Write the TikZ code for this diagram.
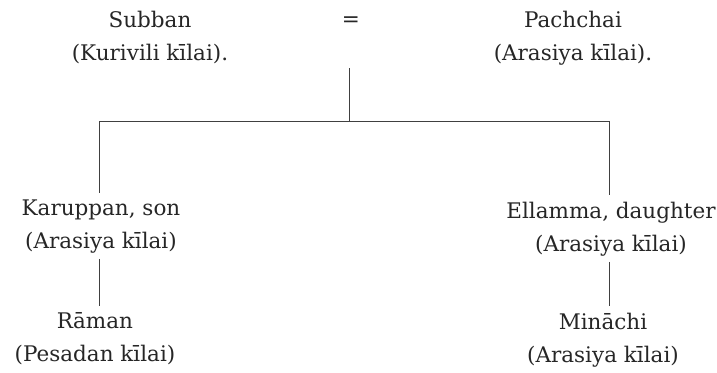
\documentclass[tikz,border=0pt]{standalone}
\usepackage{fontspec}
\setmainfont{DejaVu Serif}
\begin{document}
\begin{tikzpicture}[x=1pt,y=1pt,
  person/.style={align=center,font=\fontsize{21.5}{33}\selectfont,text=black!85,inner xsep=0pt,inner ysep=6pt,anchor=base},
  line/.style={draw=black!75,line width=0.8pt}]
\useasboundingbox (0,0) rectangle (717,-372);
\node[person] (sub) at (150,-60) {Subban\\(Kurivili kīlai).};
\node[person] (pac) at (573,-60) {Pachchai\\(Arasiya kīlai).};
\node[font=\fontsize{21.5}{22}\selectfont,text=black!85] (eq) at (351,-22) {=};
\node[person] (kar) at (101,-248) {Karuppan, son\\(Arasiya kīlai)};
\node[person] (ell) at (611,-251) {Ellamma, daughter\\(Arasiya kīlai)};
\node[person] (ram) at (95,-361) {Rāman\\(Pesadan kīlai)};
\node[person] (min) at (603,-362) {Mināchi\\(Arasiya kīlai)};
\coordinate (top) at (349,-68);
\coordinate (jn) at (349,-121);
\coordinate (hl) at (99,-121);
\coordinate (hr) at (609,-121);
\draw[line] (top) -- (jn);
\draw[line] (hl) -- (hr);
\draw[line] (hl) -- (hl |- kar.north);
\draw[line] (hr) -- (hr |- ell.north);
\draw[line] (kar.south -| hl) -- (hl |- ram.north);
\draw[line] (ell.south -| hr) -- (hr |- min.north);
\end{tikzpicture}
\end{document}
